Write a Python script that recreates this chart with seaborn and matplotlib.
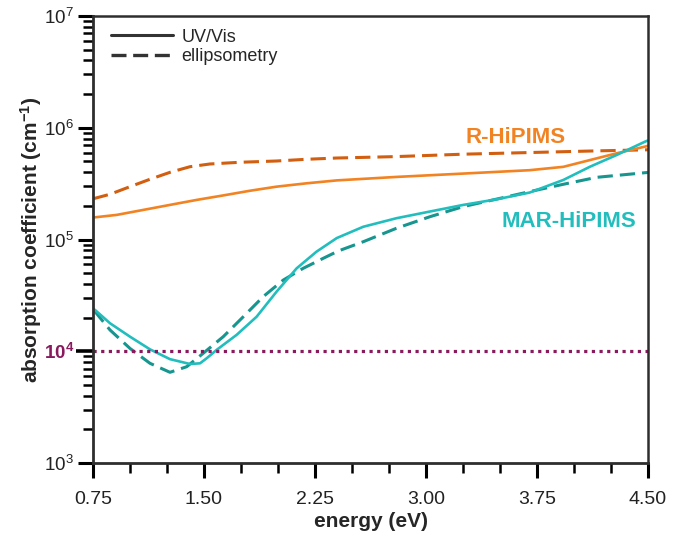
import numpy as np
import pandas as pd
import matplotlib
matplotlib.use("Agg")
import matplotlib.pyplot as plt
import matplotlib.ticker as mticker
from matplotlib.lines import Line2D
import seaborn as sns

# ---------------- data ----------------
r_uv_E = [0.75, 0.764, 0.91, 1.09, 1.27, 1.45, 1.63, 1.81, 1.99, 2.19, 2.397, 2.80, 3.252,
          3.70, 3.928, 4.108, 4.289, 4.48, 4.5]
r_uv_a = [1.58e5, 1.58e5, 1.66e5, 1.84e5, 2.04e5, 2.26e5, 2.48e5, 2.73e5, 2.97e5, 3.18e5,
          3.38e5, 3.63e5, 3.89e5, 4.17e5, 4.47e5, 5.14e5, 5.91e5, 6.78e5, 6.9e5]

r_el_E = [0.75, 0.764, 0.865, 1.0, 1.135, 1.27, 1.405, 1.54, 1.743, 1.99, 2.19, 2.397, 2.80,
          3.252, 3.70, 4.153, 4.48, 4.5]
r_el_a = [2.33e5, 2.34e5, 2.54e5, 2.97e5, 3.46e5, 3.99e5, 4.48e5, 4.74e5, 4.91e5, 5.04e5,
          5.22e5, 5.36e5, 5.52e5, 5.80e5, 6.0e5, 6.21e5, 6.34e5, 6.36e5]

m_uv_E = [0.75, 0.764, 0.865, 1.0, 1.135, 1.27, 1.405, 1.473, 1.518, 1.586, 1.72, 1.856,
          1.99, 2.126, 2.26, 2.397, 2.576, 2.80, 3.027, 3.252, 3.478, 3.70, 3.928, 4.108,
          4.289, 4.48, 4.5]
m_uv_a = [2.4e4, 2.34e4, 1.78e4, 1.35e4, 1.04e4, 8.5e3, 7.69e3, 7.8e3, 8.65e3, 1.03e4,
          1.40e4, 2.04e4, 3.41e4, 5.52e4, 7.78e4, 1.03e5, 1.30e5, 1.55e5, 1.78e5, 2.04e5,
          2.29e5, 2.63e5, 3.41e5, 4.48e5, 5.71e5, 7.51e5, 7.7e5]

m_el_E = [0.75, 0.764, 0.865, 1.0, 1.135, 1.27, 1.383, 1.495, 1.63, 1.766, 1.90, 2.036, 2.17,
          2.306, 2.407, 2.576, 2.80, 3.027, 3.252, 3.478, 3.70, 3.928, 4.153, 4.48, 4.5]
m_el_a = [2.3e4, 2.26e4, 1.55e4, 1.06e4, 7.8e3, 6.48e3, 7.27e3, 9.6e3, 1.35e4, 2.04e4,
          3.08e4, 4.34e4, 5.52e4, 6.79e4, 7.89e4, 9.55e4, 1.26e5, 1.60e5, 1.97e5, 2.30e5,
          2.68e5, 3.12e5, 3.6e5, 3.96e5, 3.98e5]

threshold = 1e4
x_ticks = [0.75, 1.50, 2.25, 3.00, 3.75, 4.50]
legend_labels = ["UV/Vis", "ellipsometry"]
series_labels = ["R-HiPIMS", "MAR-HiPIMS"]

# ---------------- style ----------------
sns.set_style("ticks")
plt.rcParams["font.family"] = ["Liberation Sans", "DejaVu Sans"]
plt.rcParams["mathtext.default"] = "regular"

C_R_UV = "#F28322"
C_R_EL = "#D25E10"
C_M_UV = "#22BDBD"
C_M_EL = "#17958F"
C_PURP = "#8A1A5E"
C_SPINE = "#2e2e2e"

fig = plt.figure(figsize=(6.81, 5.36), dpi=100)
ax = fig.add_axes([93 / 681, 1 - 463 / 536, 555 / 681, 447 / 536])

dash = (5, 2.3)
sns.lineplot(x=r_el_E, y=r_el_a, ax=ax, color=C_R_EL, lw=2.2, sort=False,
             linestyle=(0, dash))
sns.lineplot(x=r_uv_E, y=r_uv_a, ax=ax, color=C_R_UV, lw=1.9, sort=False)
sns.lineplot(x=m_el_E, y=m_el_a, ax=ax, color=C_M_EL, lw=2.2, sort=False,
             linestyle=(0, dash))
sns.lineplot(x=m_uv_E, y=m_uv_a, ax=ax, color=C_M_UV, lw=1.9, sort=False)

sns.lineplot(x=[x_ticks[0], x_ticks[-1]], y=[threshold, threshold], ax=ax, color=C_PURP,
             lw=2.3, linestyle=(0, (1, 1.4)))

ax.set_yscale("log")
ax.set_xlim(0.75, 4.5)
ax.set_ylim(1e3, 1e7)

ax.xaxis.set_major_locator(mticker.FixedLocator(x_ticks))
ax.xaxis.set_major_formatter(mticker.FormatStrFormatter("%.2f"))
ax.xaxis.set_minor_locator(mticker.MultipleLocator(0.25))
ax.yaxis.set_major_locator(mticker.LogLocator(base=10, numticks=10))
ax.yaxis.set_minor_locator(mticker.LogLocator(base=10, subs=np.arange(2, 10), numticks=20))
ax.yaxis.set_minor_formatter(mticker.NullFormatter())
ax.yaxis.set_major_formatter(mticker.FuncFormatter(
    lambda v, p: r"$10^{%d}$" % int(round(np.log10(v)))))

ax.tick_params(axis="both", which="major", length=10.8, width=2.2, color="black",
               labelcolor="#222222")
ax.tick_params(axis="x", which="major", labelsize=14, pad=9.5)
ax.tick_params(axis="y", which="major", labelsize=13.5, pad=3)
ax.tick_params(axis="both", which="minor", length=7.2, width=1.8, color="black")
ax.tick_params(top=False, right=False, which="both")

for s in ["left", "bottom"]:
    ax.spines[s].set_linewidth(2.0)
    ax.spines[s].set_color(C_SPINE)
for s in ["top", "right"]:
    ax.spines[s].set_visible(True)
    ax.spines[s].set_linewidth(1.8)
    ax.spines[s].set_color(C_SPINE)

fig.canvas.draw()
for t in ax.yaxis.get_major_ticks():
    if abs(t.get_loc() - threshold) < 1:
        t.tick1line.set_color(C_PURP)
        t.tick1line.set_markersize(12.5)
        t.tick1line.set_markeredgewidth(2.6)
        t.label1.set_color(C_PURP)
        t.label1.set_fontweight("bold")

ax.set_xlabel("energy (eV)", fontsize=15, fontweight="bold", labelpad=3)
ax.set_ylabel("absorption coefficient (cm$^{-1}$)", fontsize=15, fontweight="bold",
              labelpad=0)

ax.text(3.608, 7.31e5, series_labels[0], color=C_R_UV, fontsize=16, fontweight="bold",
        ha="center", va="baseline")
ax.text(3.966, 1.29e5, series_labels[1], color=C_M_UV, fontsize=16, fontweight="bold",
        ha="center", va="baseline")

handles = [Line2D([], [], color="#333333", lw=2.2),
           Line2D([], [], color="#333333", lw=2.4, linestyle=(0, (4.5, 2.0)))]
ax.legend(handles, legend_labels, loc="upper left", frameon=False, fontsize=13,
          handlelength=3.4, handletextpad=0.5, labelspacing=0.15,
          bbox_to_anchor=(0.01, 1.0), borderaxespad=0.3)

fig.savefig("out.png", dpi=100)
